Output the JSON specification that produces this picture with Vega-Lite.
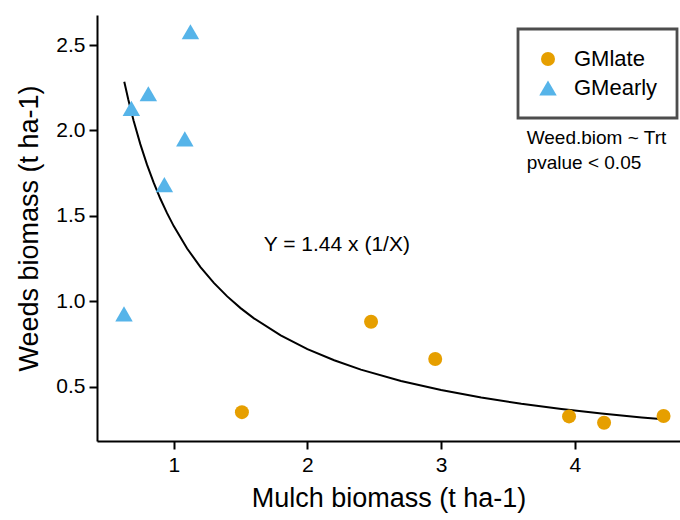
{
  "$schema": "https://vega.github.io/schema/vega-lite/v6.json",
  "width": 583,
  "height": 426,
  "autosize": {"type": "none"},
  "padding": {"left": 97, "top": 15, "right": 0, "bottom": 79},
  "background": "white",
  "config": {
    "view": {"stroke": null},
    "font": "Liberation Sans",
    "legend": {"strokeWidth": 2.8},
    "axis": {
      "grid": false,
      "domainColor": "black",
      "domainWidth": 2,
      "tickColor": "black",
      "tickWidth": 2,
      "tickSize": 8,
      "labelColor": "black",
      "labelFontSize": 21,
      "labelFont": "Liberation Sans",
      "titleColor": "black",
      "titleFontSize": 27,
      "titleFont": "Liberation Sans",
      "titleFontWeight": "normal"
    }
  },
  "datasets": {
    "pts": [
      {"Trt": "GMlate", "Mulch": 1.51, "Weeds": 0.351},
      {"Trt": "GMlate", "Mulch": 2.476, "Weeds": 0.88},
      {"Trt": "GMlate", "Mulch": 2.956, "Weeds": 0.662},
      {"Trt": "GMlate", "Mulch": 3.957, "Weeds": 0.326},
      {"Trt": "GMlate", "Mulch": 4.219, "Weeds": 0.289},
      {"Trt": "GMlate", "Mulch": 4.664, "Weeds": 0.328},
      {"Trt": "GMearly", "Mulch": 0.628, "Weeds": 0.926},
      {"Trt": "GMearly", "Mulch": 0.683, "Weeds": 2.129},
      {"Trt": "GMearly", "Mulch": 0.81, "Weeds": 2.215},
      {"Trt": "GMearly", "Mulch": 0.93, "Weeds": 1.683},
      {"Trt": "GMearly", "Mulch": 1.083, "Weeds": 1.951},
      {"Trt": "GMearly", "Mulch": 1.125, "Weeds": 2.578}
    ],
    "curve": [
      {"Mulch": 0.63, "Weeds": 2.2857},
      {"Mulch": 0.66, "Weeds": 2.1818},
      {"Mulch": 0.7, "Weeds": 2.0571},
      {"Mulch": 0.75, "Weeds": 1.92},
      {"Mulch": 0.8, "Weeds": 1.8},
      {"Mulch": 0.85, "Weeds": 1.6941},
      {"Mulch": 0.9, "Weeds": 1.6},
      {"Mulch": 0.95, "Weeds": 1.5158},
      {"Mulch": 1.0, "Weeds": 1.44},
      {"Mulch": 1.1, "Weeds": 1.3091},
      {"Mulch": 1.2, "Weeds": 1.2},
      {"Mulch": 1.3, "Weeds": 1.1077},
      {"Mulch": 1.4, "Weeds": 1.0286},
      {"Mulch": 1.5, "Weeds": 0.96},
      {"Mulch": 1.6, "Weeds": 0.9},
      {"Mulch": 1.8, "Weeds": 0.8},
      {"Mulch": 2.0, "Weeds": 0.72},
      {"Mulch": 2.2, "Weeds": 0.6545},
      {"Mulch": 2.4, "Weeds": 0.6},
      {"Mulch": 2.7, "Weeds": 0.5333},
      {"Mulch": 3.0, "Weeds": 0.48},
      {"Mulch": 3.3, "Weeds": 0.4364},
      {"Mulch": 3.6, "Weeds": 0.4},
      {"Mulch": 3.9, "Weeds": 0.3692},
      {"Mulch": 4.2, "Weeds": 0.3429},
      {"Mulch": 4.5, "Weeds": 0.32},
      {"Mulch": 4.664, "Weeds": 0.3087}
    ],
    "notes": [
      {"Mulch": 2.22, "Weeds": 1.329, "label": "Y = 1.44 x (1/X)", "kind": "eq"},
      {"Mulch": 3.64, "Weeds": 1.955, "label": "Weed.biom ~ Trt", "kind": "side"},
      {"Mulch": 3.64, "Weeds": 1.809, "label": "pvalue < 0.05", "kind": "side"}
    ]
  },
  "layer": [
    {
      "data": {"name": "curve"},
      "mark": {"type": "line", "color": "black", "strokeWidth": 2},
      "encoding": {
        "x": {"field": "Mulch", "type": "quantitative", "scale": {"domain": [0.426, 4.787], "nice": false, "zero": false},
              "axis": {"values": [1, 2, 3, 4], "format": "d", "title": "Mulch biomass (t ha-1)", "titlePadding": 10, "labelPadding": 5}},
        "y": {"field": "Weeds", "type": "quantitative", "scale": {"domain": [0.182, 2.676], "nice": false, "zero": false},
              "axis": {"values": [0.5, 1.0, 1.5, 2.0, 2.5], "format": ".1f", "title": "Weeds biomass (t ha-1)", "titlePadding": 12, "labelPadding": 4}}
      }
    },
    {
      "data": {"name": "pts"},
      "mark": {"type": "point", "filled": true, "opacity": 1},
      "encoding": {
        "x": {"field": "Mulch", "type": "quantitative"},
        "y": {"field": "Weeds", "type": "quantitative"},
        "size": {"field": "Trt", "type": "nominal",
                 "scale": {"domain": ["GMlate", "GMearly"], "range": [196, 306]},
                 "legend": null},
        "color": {"field": "Trt", "type": "nominal",
                  "scale": {"domain": ["GMlate", "GMearly"], "range": ["#E69F00", "#56B4E9"]},
                  "legend": {"title": null, "orient": "none", "legendX": 421, "legendY": 14,
                             "strokeColor": "#4D4D4D", "padding": 19,
                             "labelFontSize": 22, "labelFont": "Liberation Sans", "labelColor": "black",
                             "symbolSize": 240, "rowPadding": 7, "labelOffset": 15, "fillColor": "white"}},
        "shape": {"field": "Trt", "type": "nominal",
                  "scale": {"domain": ["GMlate", "GMearly"], "range": ["circle", "triangle-up"]},
                  "legend": {"title": null, "orient": "none", "legendX": 421, "legendY": 14,
                             "strokeColor": "#4D4D4D", "padding": 19,
                             "labelFontSize": 22, "labelFont": "Liberation Sans", "labelColor": "black",
                             "symbolSize": 240, "rowPadding": 7, "labelOffset": 15, "fillColor": "white"}}
      }
    },
    {
      "data": {"name": "notes"},
      "transform": [{"filter": "datum.kind == 'eq'"}],
      "mark": {"type": "text", "fontSize": 21, "align": "center", "baseline": "middle", "color": "black"},
      "encoding": {
        "x": {"field": "Mulch", "type": "quantitative"},
        "y": {"field": "Weeds", "type": "quantitative"},
        "text": {"field": "label"}
      }
    },
    {
      "data": {"name": "notes"},
      "transform": [{"filter": "datum.kind == 'side'"}],
      "mark": {"type": "text", "fontSize": 19, "align": "left", "baseline": "middle", "color": "black"},
      "encoding": {
        "x": {"field": "Mulch", "type": "quantitative"},
        "y": {"field": "Weeds", "type": "quantitative"},
        "text": {"field": "label"}
      }
    }
  ]
}
